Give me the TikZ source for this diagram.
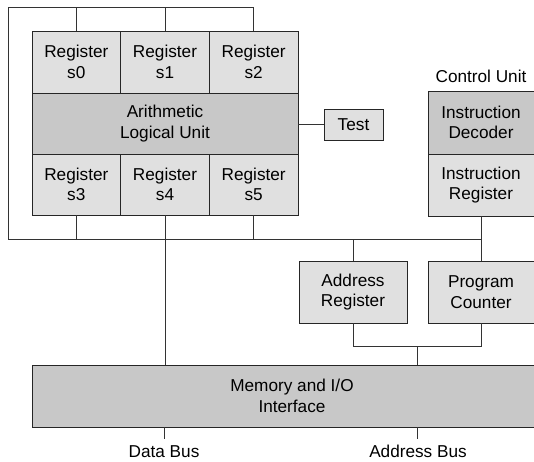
\documentclass[tikz,border=0pt]{standalone}
\usepackage{fontspec}
\setmainfont{Liberation Sans}
\definecolor{lightg}{HTML}{E0E0E0}
\definecolor{darkg}{HTML}{C8C8C8}
\begin{document}
\begin{tikzpicture}[x=1pt,y=-1pt,
  every node/.style={font=\fontsize{17.2}{20.5}\selectfont},
  box/.style={draw=black!85, line width=0.9pt, fill=lightg, inner sep=0pt, align=center},
  dbox/.style={box, fill=darkg},
  buslabel/.style={anchor=base, inner sep=0pt, text depth=0pt},
  wire/.style={draw=black!80, line width=0.9pt}]
\useasboundingbox (0,0) rectangle (534,461);
% register file and ALU
\node[box, minimum width=88.67pt, minimum height=62pt] (s0) at (76.33,62) {Register\\s0};
\node[box, minimum width=88.67pt, minimum height=62pt] (s1) at (165,62) {Register\\s1};
\node[box, minimum width=88.67pt, minimum height=62pt] (s2) at (253.67,62) {Register\\s2};
\node[dbox, minimum width=266pt, minimum height=61pt] (alu) at (165,123.5) {Arithmetic\\Logical Unit};
\node[box, minimum width=88.67pt, minimum height=61pt] (s3) at (76.33,184.5) {Register\\s3};
\node[box, minimum width=88.67pt, minimum height=61pt] (s4) at (165,184.5) {Register\\s4};
\node[box, minimum width=88.67pt, minimum height=61pt] (s5) at (253.67,184.5) {Register\\s5};
\node[box, minimum width=59pt, minimum height=31pt] (test) at (353.5,124.5) {Test};
% control unit
\node (cul) at (481,76) {Control Unit};
\node[dbox, minimum width=106pt, minimum height=63pt] (dec) at (481,122.5) {Instruction\\Decoder};
\node[box, minimum width=106pt, minimum height=62pt] (ir) at (481,185) {Instruction\\Register};
% address register, program counter
\node[box, minimum width=108pt, minimum height=62pt] (ar) at (353,292) {Address\\Register};
\node[box, minimum width=106pt, minimum height=62pt] (pc) at (481,292) {Program\\Counter};
% memory
\node[dbox, minimum width=502pt, minimum height=62pt] (mem) at (283,396) {};
\node[align=center, inner sep=0pt] (memtxt) at (292,396) {Memory and I/O\\Interface};
\node[buslabel] (db) at (164,457.5) {Data Bus};
\node[buslabel] (ab) at (418,457.5) {Address Bus};
% coordinates
\coordinate (tl) at (8,7);
\coordinate (bl) at (8,239);
\coordinate (dbend) at (164,439);
\coordinate (abend) at (417,439);
% top loop
\draw[wire] (s0.north) -- (s0.north |- tl) -- (tl) -- (bl) -- (bl -| ir.south) -- (ir.south);
\draw[wire] (s0.north |- tl) -- (s2.north |- tl) -- (s2.north);
\draw[wire] (s1.north) -- (s1.north |- tl);
% bottom bus drops
\draw[wire] (s3.south) -- (s3.south |- bl);
\draw[wire] (s5.south) -- (s5.south |- bl);
\draw[wire] (s4.south) -- (s4.south |- mem.north);
\draw[wire] (ar.north) -- (ar.north |- bl);
\draw[wire] (pc.north) -- (pc.north |- bl);
% test
\draw[wire] (alu.east |- test.west) -- (test.west);
% address path
\draw[wire] (ar.south) -- ++(0,23) -| (pc.south);
\draw[wire] (417,346) -- (417,365);
% buses out
\draw[wire] (164,427) -- (dbend);
\draw[wire] (417,427) -- (abend);
\end{tikzpicture}
\end{document}
